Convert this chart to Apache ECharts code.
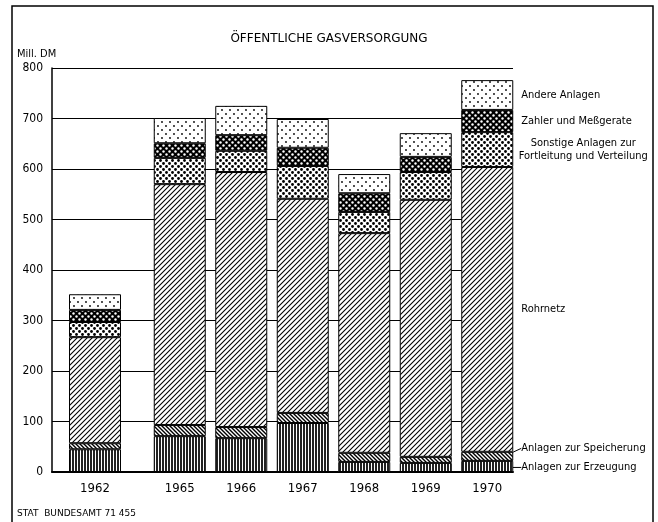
<!DOCTYPE html>
<html>
<head>
<meta charset="utf-8">
<script src="https://cdn.jsdelivr.net/npm/echarts@6/dist/echarts.min.js"></script>
<style>
  html, body { margin: 0; padding: 0; background: #fff; }
  #main { width: 658px; height: 522px; }
</style>
</head>
<body>
<div id="main"></div>
<script>
// Kategorien (1962 steht abgesetzt links, danach 1965 bis 1970)
var yearFirst = ['1962']
var yearsLater = ['1965', '1966', '1967', '1968', '1969', '1970']

// Werte in Mill. DM, je Jahr 1962, 1965 ... 1970
var erzeugung = [45, 71, 67, 97, 20, 18, 22]
var speicherung = [12, 22, 22, 20, 18, 12, 18]
var rohrnetz = [210, 477, 505, 424, 435, 509, 564]
var sonstige = [30, 52, 42, 65, 42, 55, 69]
var zaehler = [24, 29, 31, 36, 37, 30, 44]
var andere = [31, 50, 58, 57, 38, 47, 59]

var narrow = "'Liberation Sans Narrow', 'DejaVu Sans Condensed', sans-serif"

// kleine Schraffur-Kacheln als Canvas
function tile (w, h, draw) {
  var c = document.createElement('canvas')
  c.width = w
  c.height = h
  var ctx = c.getContext('2d')
  ctx.fillStyle = '#fff'
  ctx.fillRect(0, 0, w, h)
  draw(ctx)
  return { image: c, repeat: 'repeat' }
}

function dots (ctx, pts, r, col) {
  ctx.fillStyle = col
  pts.forEach(function (p) {
    ctx.beginPath()
    ctx.arc(p[0], p[1], r, 0, Math.PI * 2)
    ctx.fill()
  })
}

var patVert = tile(3, 3, function (ctx) {
  ctx.fillStyle = '#222'
  ctx.fillRect(0, 0, 2, 3)
})
var patBack = tile(4, 4, function (ctx) {
  ctx.strokeStyle = '#000'
  ctx.lineWidth = 1.4
  ctx.beginPath()
  ctx.moveTo(-1, -1); ctx.lineTo(5, 5)
  ctx.moveTo(-1, 3); ctx.lineTo(1, 5)
  ctx.moveTo(3, -1); ctx.lineTo(5, 1)
  ctx.stroke()
})
var patSlash = tile(5, 5, function (ctx) {
  ctx.strokeStyle = '#000'
  ctx.lineWidth = 1.1
  ctx.beginPath()
  ctx.moveTo(-1, 6); ctx.lineTo(6, -1)
  ctx.moveTo(-1, 1); ctx.lineTo(1, -1)
  ctx.moveTo(4, 6); ctx.lineTo(6, 4)
  ctx.stroke()
})
var patBigDots = tile(6, 6, function (ctx) {
  dots(ctx, [[1.5, 1.5], [4.5, 4.5]], 1.4, '#000')
})
var patDark = tile(6, 6, function (ctx) {
  ctx.fillStyle = '#000'
  ctx.fillRect(0, 0, 6, 6)
  dots(ctx, [[1.5, 1.5], [4.5, 4.5]], 1.2, '#fff')
})
var patFine = tile(8, 8, function (ctx) {
  dots(ctx, [[2, 2], [6, 6]], 0.9, '#000')
})

var segments = [
  { name: 'Anlagen zur Erzeugung', data: erzeugung, color: patVert, dy: 1 },
  { name: 'Anlagen zur Speicherung', data: speicherung, color: patBack, dy: -8 },
  { name: 'Rohrnetz', data: rohrnetz, color: patSlash },
  { name: 'Sonstige Anlagen zur\nFortleitung und Verteilung', data: sonstige, color: patBigDots, center: true },
  { name: 'Zahler und Meßgerate', data: zaehler, color: patDark },
  { name: 'Andere Anlagen', data: andere, color: patFine }
]

var series = []
segments.forEach(function (seg) {
  var style = { color: seg.color, borderColor: '#000', borderWidth: 1 }
  series.push({
    type: 'bar', name: seg.name, stack: 'a', barWidth: 52,
    xAxisIndex: 1, yAxisIndex: 1,
    itemStyle: style,
    data: seg.data.slice(0, 1)
  })
  var later = seg.data.slice(1)
  series.push({
    type: 'bar', name: seg.name, stack: 'b', barWidth: 52,
    xAxisIndex: 2, yAxisIndex: 2,
    itemStyle: style,
    label: {
      show: false,
      position: 'right',
      distance: seg.center ? 70 : 8,
      align: seg.center ? 'center' : 'left',
      formatter: '{a}',
      color: '#000',
      fontSize: 11,
      lineHeight: 13,
      fontFamily: narrow
    },
    labelLayout: seg.dy ? { dy: seg.dy } : undefined,
    labelLine: { show: !!seg.dy, lineStyle: { color: '#000', width: 1 } },
    data: later.map(function (v, i) {
      return i === later.length - 1 ? { value: v, label: { show: true } } : v
    })
  })
})

var hiddenY = { type: 'value', min: 0, max: 800, interval: 100, show: false }
var catAxis = {
  type: 'category',
  axisLine: { show: false },
  axisTick: { show: false },
  axisLabel: { color: '#000', fontSize: 13, fontFamily: narrow, margin: 10 }
}

var chart = echarts.init(document.getElementById('main'))
chart.setOption({
  animation: false,
  backgroundColor: '#fff',
  title: {
    text: 'ÖFFENTLICHE GASVERSORGUNG',
    left: 'center',
    top: 28,
    textStyle: { fontFamily: 'DejaVu Sans', fontSize: 12, fontWeight: 'normal', color: '#000' }
  },
  grid: [
    { left: 52, right: 145, top: 68, bottom: 50 },
    { left: 52, width: 86, top: 68, bottom: 50 },
    { left: 149, right: 140, top: 68, bottom: 50 }
  ],
  xAxis: [
    {
      type: 'value', min: 0, max: 1, gridIndex: 0,
      axisLine: { show: true, lineStyle: { color: '#000', width: 2 } },
      axisTick: { show: false }, axisLabel: { show: false }, splitLine: { show: false }
    },
    Object.assign({ gridIndex: 1, data: yearFirst }, catAxis),
    Object.assign({ gridIndex: 2, data: yearsLater }, catAxis)
  ],
  yAxis: [
    {
      type: 'value', min: 0, max: 800, interval: 100, gridIndex: 0,
      axisLine: { show: true, lineStyle: { color: '#000', width: 1.5 } },
      axisTick: { show: false },
      axisLabel: { color: '#000', fontSize: 12, fontFamily: narrow, margin: 9 },
      splitLine: { show: true, lineStyle: { color: '#000', width: 1 } }
    },
    Object.assign({ gridIndex: 1 }, hiddenY),
    Object.assign({ gridIndex: 2 }, hiddenY)
  ],
  graphic: [
    {
      type: 'rect', silent: true,
      shape: { x: 12, y: 6, width: 641, height: 560 },
      style: { fill: 'none', stroke: '#000', lineWidth: 1.5 }
    },
    {
      type: 'text', left: 17, top: 49,
      style: { text: 'Mill. DM', fontSize: 11, fontFamily: narrow, fill: '#000' }
    },
    {
      type: 'text', left: 17, top: 509,
      style: { text: 'STAT  BUNDESAMT 71 455', fontSize: 9, fontFamily: 'DejaVu Sans', fill: '#000' }
    }
  ],
  series: series
})
</script>
</body>
</html>
